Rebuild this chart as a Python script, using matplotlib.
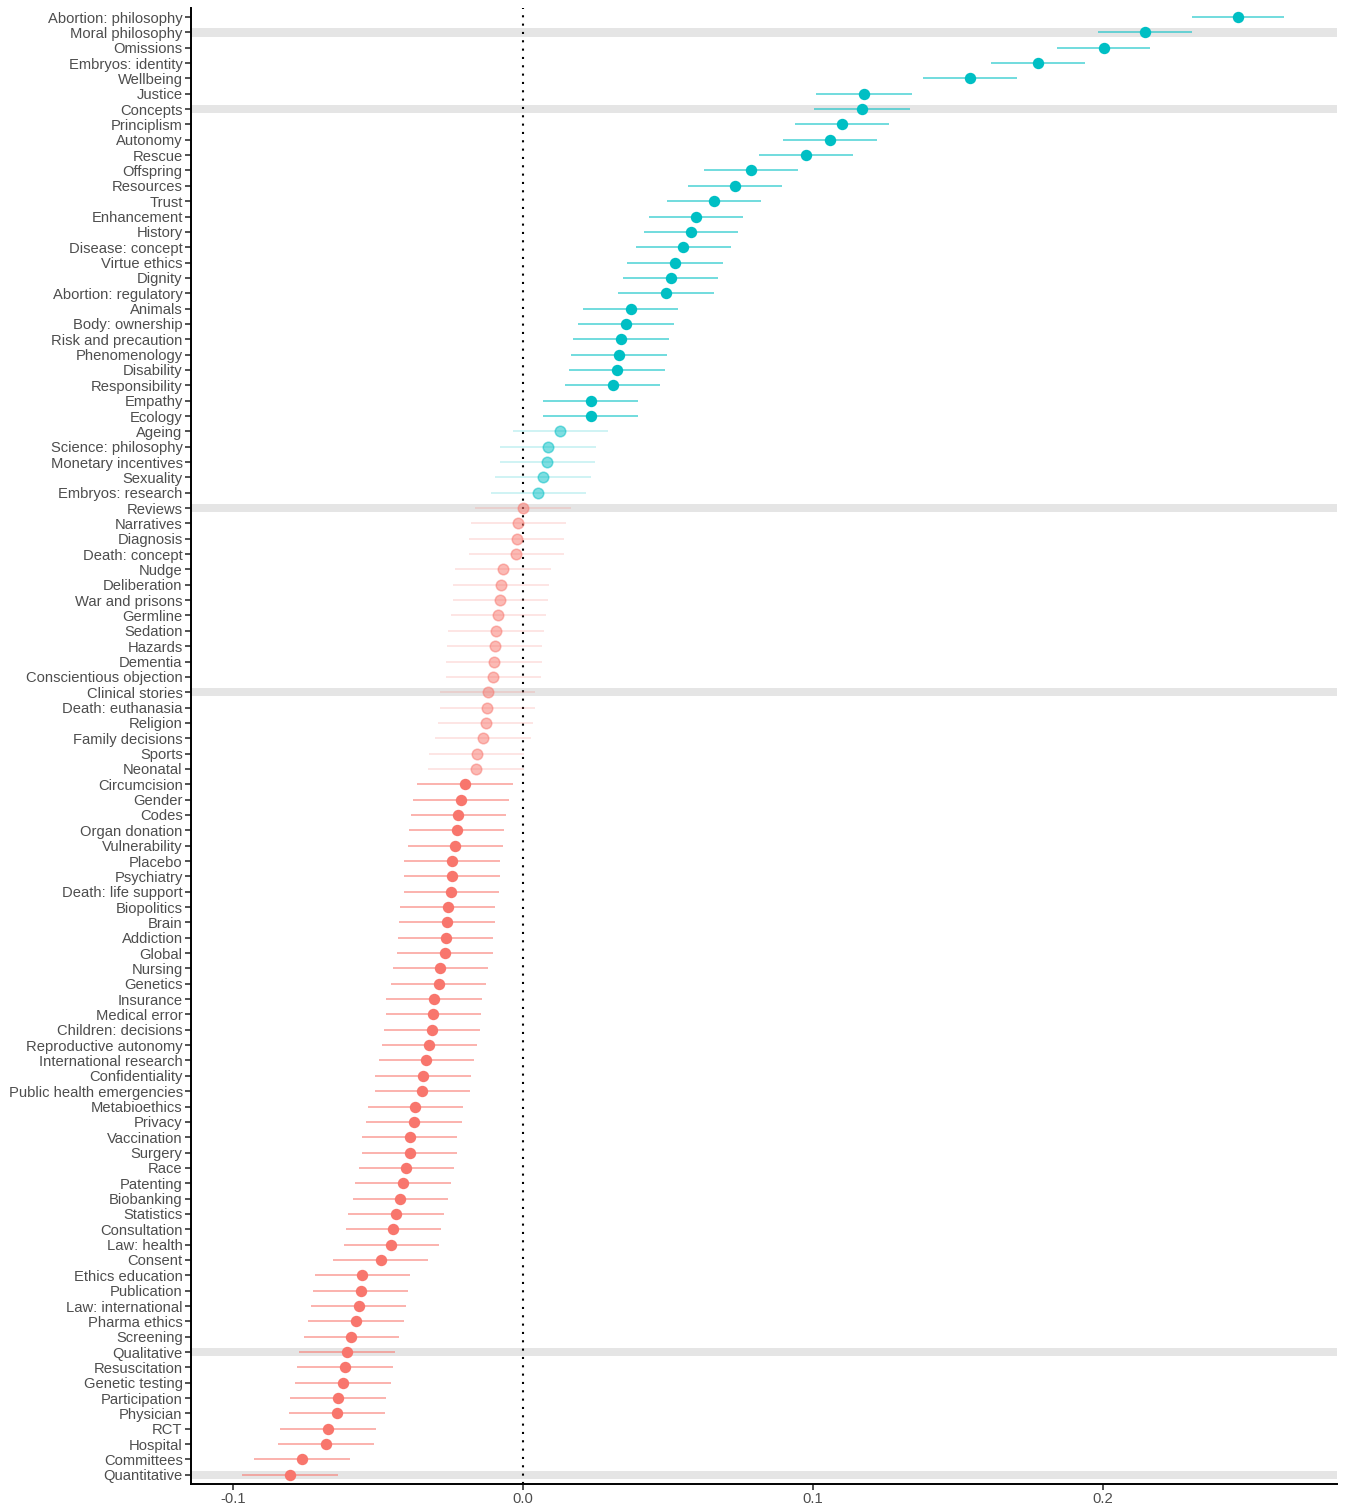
import numpy as np
import matplotlib
matplotlib.use('Agg')
import matplotlib.pyplot as plt

# topics, top to bottom
topics = ['Abortion: philosophy', 'Moral philosophy', 'Omissions', 'Embryos: identity', 'Wellbeing',
          'Justice', 'Concepts', 'Principlism', 'Autonomy', 'Rescue', 'Offspring', 'Resources',
          'Trust', 'Enhancement', 'History', 'Disease: concept', 'Virtue ethics', 'Dignity',
          'Abortion: regulatory', 'Animals', 'Body: ownership', 'Risk and precaution',
          'Phenomenology', 'Disability', 'Responsibility', 'Empathy', 'Ecology', 'Ageing',
          'Science: philosophy', 'Monetary incentives', 'Sexuality', 'Embryos: research',
          'Reviews', 'Narratives', 'Diagnosis', 'Death: concept', 'Nudge', 'Deliberation',
          'War and prisons', 'Germline', 'Sedation', 'Hazards', 'Dementia',
          'Conscientious objection', 'Clinical stories', 'Death: euthanasia', 'Religion',
          'Family decisions', 'Sports', 'Neonatal', 'Circumcision', 'Gender', 'Codes',
          'Organ donation', 'Vulnerability', 'Placebo', 'Psychiatry', 'Death: life support',
          'Biopolitics', 'Brain', 'Addiction', 'Global', 'Nursing', 'Genetics', 'Insurance',
          'Medical error', 'Children: decisions', 'Reproductive autonomy',
          'International research', 'Confidentiality', 'Public health emergencies',
          'Metabioethics', 'Privacy', 'Vaccination', 'Surgery', 'Race', 'Patenting',
          'Biobanking', 'Statistics', 'Consultation', 'Law: health', 'Consent',
          'Ethics education', 'Publication', 'Law: international', 'Pharma ethics',
          'Screening', 'Qualitative', 'Resuscitation', 'Genetic testing', 'Participation',
          'Physician', 'RCT', 'Hospital', 'Committees', 'Quantitative']

estimate = [0.2466, 0.2145, 0.2003, 0.1776, 0.1541, 0.1176, 0.1169, 0.1100, 0.1059, 0.0976,
            0.0786, 0.0731, 0.0659, 0.0597, 0.0579, 0.0552, 0.0524, 0.0510, 0.0493, 0.0372,
            0.0355, 0.0338, 0.0331, 0.0324, 0.0310, 0.0234, 0.0234, 0.0128, 0.0086, 0.0083,
            0.0069, 0.0052, 0.0000, -0.0017, -0.0021, -0.0024, -0.0069, -0.0076, -0.0079,
            -0.0086, -0.0093, -0.0097, -0.0100, -0.0103, -0.0121, -0.0124, -0.0128, -0.0138,
            -0.0159, -0.0162, -0.0200, -0.0214, -0.0224, -0.0228, -0.0234, -0.0245, -0.0245,
            -0.0248, -0.0259, -0.0262, -0.0266, -0.0269, -0.0286, -0.0290, -0.0307, -0.0310,
            -0.0314, -0.0324, -0.0334, -0.0345, -0.0348, -0.0372, -0.0376, -0.0390, -0.0390,
            -0.0403, -0.0414, -0.0424, -0.0438, -0.0448, -0.0455, -0.0490, -0.0555, -0.0559,
            -0.0566, -0.0576, -0.0593, -0.0607, -0.0614, -0.0621, -0.0638, -0.0641, -0.0672,
            -0.0679, -0.0762, -0.0803]

# half width of the interval, read per row (nearly the same everywhere)
half_ci = [0.0160, 0.0162, 0.0160, 0.0162, 0.0162, 0.0164, 0.0164, 0.0163, 0.0163, 0.0163,
           0.0163, 0.0163, 0.0163, 0.0163, 0.0163, 0.0164, 0.0164, 0.0164, 0.0164, 0.0164,
           0.0164, 0.0164, 0.0164, 0.0164, 0.0164, 0.0164, 0.0164, 0.0164, 0.0164, 0.0164,
           0.0164, 0.0164, 0.0164, 0.0164, 0.0164, 0.0164, 0.0164, 0.0164, 0.0164, 0.0164,
           0.0164, 0.0164, 0.0164, 0.0164, 0.0164, 0.0164, 0.0164, 0.0164, 0.0164, 0.0164,
           0.0164, 0.0164, 0.0164, 0.0164, 0.0164, 0.0164, 0.0164, 0.0164, 0.0164, 0.0164,
           0.0164, 0.0164, 0.0164, 0.0164, 0.0164, 0.0164, 0.0164, 0.0164, 0.0164, 0.0164,
           0.0164, 0.0164, 0.0164, 0.0164, 0.0164, 0.0164, 0.0164, 0.0164, 0.0164, 0.0164,
           0.0164, 0.0164, 0.0164, 0.0164, 0.0164, 0.0164, 0.0164, 0.0165, 0.0165, 0.0165,
           0.0165, 0.0165, 0.0165, 0.0165, 0.0165, 0.0165]

highlight = ['Moral philosophy', 'Concepts', 'Reviews', 'Clinical stories', 'Qualitative',
             'Quantitative']

x_ticks = [-0.1, 0.0, 0.1, 0.2]

TEAL = '#00BFC4'
RED = '#F8766D'

plt.rcParams['font.family'] = ['Liberation Sans', 'DejaVu Sans']

fig = plt.figure(figsize=(13.46, 15.06), dpi=100)
ax = fig.add_axes([0.1419, 0.0146, 0.8514, 0.9802])

n = len(topics)
y = np.arange(n)[::-1]

for i, name in enumerate(topics):
    if name in highlight:
        ax.axhspan(y[i] - 0.27, y[i] + 0.27, color='#E5E5E5', lw=0, zorder=0)

ax.axvline(0, color='black', ls=(0, (1, 3)), lw=1.5, zorder=1)

for i in range(n):
    v = estimate[i]
    h = half_ci[i]
    col = TEAL if v > 0 else RED
    sig = abs(v) > h
    ax.plot([v - h, v + h], [y[i], y[i]], color=col, lw=1.2,
            alpha=0.65 if sig else 0.22, solid_capstyle='butt', zorder=2)
    if sig:
        ax.plot(v, y[i], 'o', color=col, ms=8.2, mec=col, mew=0, zorder=3)
    else:
        ax.plot(v, y[i], 'o', color=col, ms=7.6, mec=col, mew=1.1, alpha=0.5, zorder=3)

ax.set_xlim(-0.1145, 0.2807)
ax.set_ylim(-0.6, n - 0.4)
ax.set_yticks(y)
ax.set_yticklabels(topics)
ax.set_xticks(x_ticks)
ax.set_xticklabels(['-0.1', '0.0', '0.1', '0.2'])

for s in ['top', 'right']:
    ax.spines[s].set_visible(False)
for s in ['left', 'bottom']:
    ax.spines[s].set_linewidth(1.4)
ax.tick_params(axis='both', length=4, width=1.2, color='#333333',
               labelcolor='#4D4D4D', labelsize=10.6, pad=2)

plt.savefig('out.png', dpi=100)
